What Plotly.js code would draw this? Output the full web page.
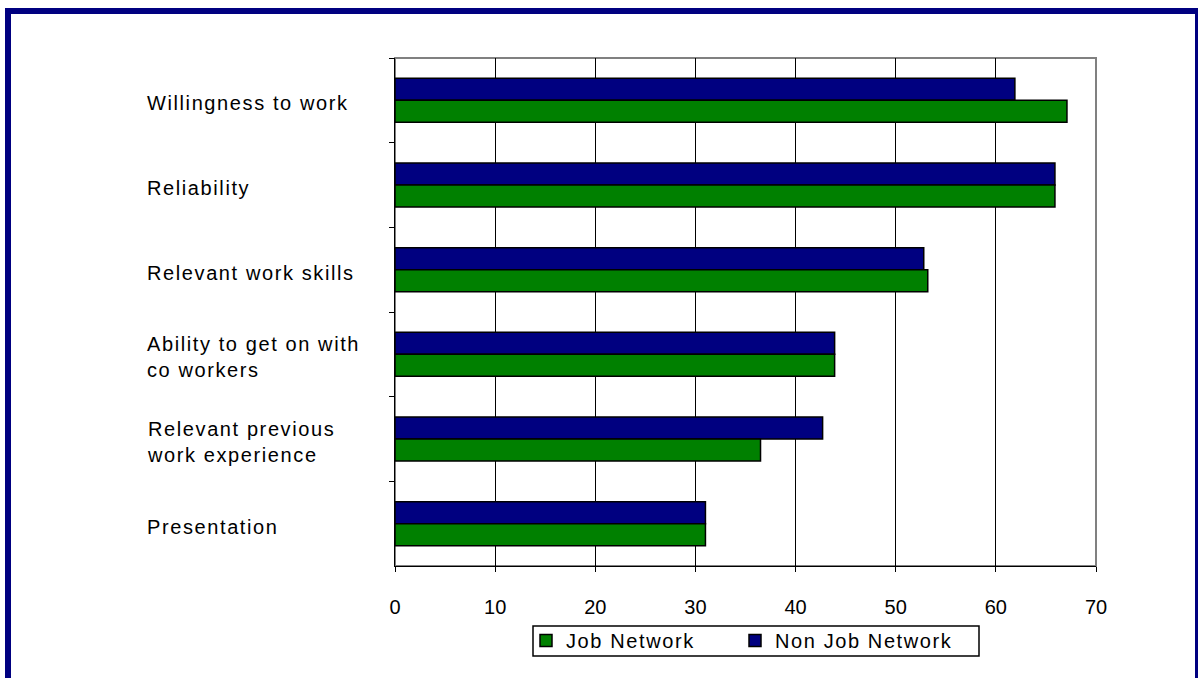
<!DOCTYPE html>
<html>
<head>
<meta charset="utf-8">
<script src="https://cdn.plot.ly/plotly-3.0.1.min.js"></script>
<style>
  html, body { margin: 0; padding: 0; background: #fff; }
  #wrap { position: relative; width: 1198px; height: 678px; overflow: hidden; }
  #chart { width: 1198px; height: 678px; }
  #frame { position: absolute; left: 5px; top: 8px; width: 1184px; height: 700px;
           border: 6px solid #000080; pointer-events: none; }
  #chart .annotation-text, #chart .legendtext { letter-spacing: 1.6px; }
  #chart .legend, #chart .legend .scrollbox { clip-path: none !important; }
</style>
</head>
<body>
<div id="wrap">
  <div id="chart"></div>
  <div id="frame"></div>
</div>
<script>
const categories = [
  "Willingness to work",
  "Reliability",
  "Relevant work skills",
  "Ability to get on with<br>co workers",
  "Relevant previous<br>work experience",
  "Presentation"
];
const jobNetwork    = [67.1, 65.9, 53.2, 43.9, 36.5, 31.0];
const nonJobNetwork = [61.9, 65.9, 52.8, 43.9, 42.7, 31.0];
const xTicks = [0, 10, 20, 30, 40, 50, 60, 70];

const FONT = "Liberation Sans, Arial, sans-serif";

const traces = [
  {
    type: "bar", orientation: "h", name: "Non Job Network",
    y: categories, x: nonJobNetwork,
    marker: { color: "#000080", line: { color: "#000000", width: 1.5 } },
    hoverinfo: "skip"
  },
  {
    type: "bar", orientation: "h", name: "Job Network",
    y: categories, x: jobNetwork,
    marker: { color: "#008000", line: { color: "#000000", width: 1.5 } },
    hoverinfo: "skip"
  }
];

const annotations = categories.map(c => ({
  text: c, xref: "paper", yref: "y", x: (145 - 395) / 701, y: c,
  xanchor: "left", yanchor: "middle", align: "left", showarrow: false,
  yshift: -3,
  font: { family: FONT, size: 20, color: "#000" }
}));

const px = v => (v - 395) / 701;
const py = v => (566 - v) / 508;

const layout = {
  width: 1198, height: 678,
  margin: { l: 395, r: 102, t: 58, b: 112 },
  paper_bgcolor: "#ffffff", plot_bgcolor: "#ffffff",
  barmode: "group", bargap: 0.48, bargroupgap: 0,
  showlegend: true,
  legend: {
    orientation: "h", traceorder: "reversed",
    x: px(526), xanchor: "left",
    y: py(621), yanchor: "top",
    entrywidth: 164, entrywidthmode: "pixels",
    borderwidth: 0, bgcolor: "rgba(0,0,0,0)",
    font: { family: FONT, size: 20, color: "#000" }
  },
  xaxis: {
    range: [0, 70], tickvals: xTicks, ticktext: xTicks.map(String),
    showgrid: true, gridcolor: "#000", gridwidth: 1,
    zeroline: false, showline: true, linecolor: "#000", linewidth: 1,
    ticks: "outside", ticklen: 5, tickcolor: "#000",
    ticklabelstandoff: 18,
    tickfont: { family: FONT, size: 20, color: "#000" },
    fixedrange: true
  },
  yaxis: {
    type: "category", autorange: "reversed",
    showticklabels: false, showgrid: false, zeroline: false,
    showline: true, linecolor: "#000", linewidth: 1,
    ticks: "outside", ticklen: 5, tickcolor: "#000", tickson: "boundaries",
    fixedrange: true
  },
  shapes: [
    {
      type: "rect", xref: "paper", yref: "paper", x0: 0, x1: 1, y0: 0, y1: 1,
      line: { color: "#808080", width: 2 }, layer: "below"
    },
    {
      type: "rect", xref: "paper", yref: "paper",
      x0: px(533), x1: px(979), y0: py(656), y1: py(626),
      line: { color: "#000", width: 1.5 }, fillcolor: "rgba(0,0,0,0)", layer: "above"
    }
  ],
  annotations: annotations
};

Plotly.newPlot("chart", traces, layout, { staticPlot: true, displayModeBar: false });
</script>
</body>
</html>
